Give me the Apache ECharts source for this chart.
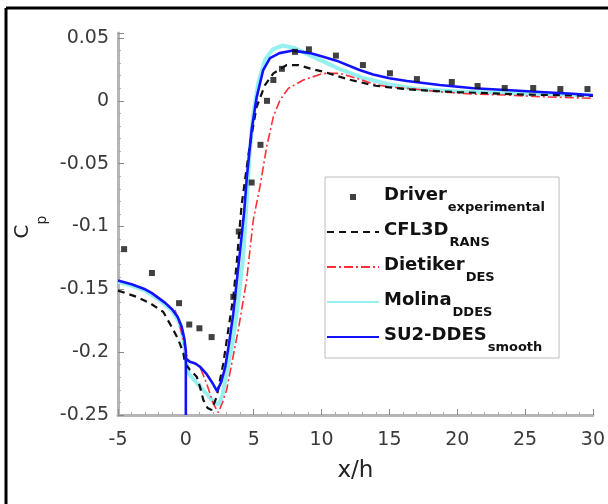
<!DOCTYPE html>
<html>
<head>
<meta charset="utf-8">
<script src="https://cdn.jsdelivr.net/npm/echarts@6/dist/echarts.min.js"></script>
<style>
  html, body { margin: 0; padding: 0; background: #fff; }
  #chart { width: 608px; height: 504px; }
</style>
</head>
<body>
<div id="chart"></div>
<script>
// Wall pressure coefficient behind a backward-facing step, x/h from -5 to 30.

// Legend names and their subscripts
const seriesNames = ['Driver', 'CFL3D', 'Dietiker', 'Molina', 'SU2-DDES'];
const subscripts = ['experimental', 'RANS', 'DES', 'DDES', 'smooth'];

// Driver experimental
const xDriver = [-4.55, -2.5, -0.5, 0.25, 1.0, 1.9, 3.5, 3.9, 4.85, 5.5, 5.98, 6.45, 7.08, 8.04, 9.07, 11.06, 13.05, 15.04, 17.03, 19.6, 21.5, 23.5, 25.6, 27.6, 29.6];
const cpDriver = [-0.118, -0.137, -0.161, -0.178, -0.181, -0.188, -0.156, -0.104, -0.065, -0.035, 0.0, 0.0166, 0.0255, 0.039, 0.041, 0.036, 0.0285, 0.022, 0.0173, 0.015, 0.0118, 0.0102, 0.0102, 0.0094, 0.0094];

// CFL3D RANS
const xCfl3d = [-5, -3.62, -2.64, -1.66, -1.04, -0.55, -0.18, -0.06, 0.3, 0.8, 1.04, 1.29, 1.6, 1.9, 2.27, 2.76, 3.13, 3.5, 3.75, 3.87, 4.11, 4.36, 4.73, 5.22, 5.83, 6.45, 7.43, 8.29, 9.39, 10.13, 12, 14, 16, 18, 20, 25, 30];
const cpCfl3d = [-0.151, -0.156, -0.161, -0.168, -0.18, -0.19, -0.201, -0.209, -0.214, -0.2195, -0.2275, -0.238, -0.2445, -0.246, -0.2355, -0.209, -0.182, -0.156, -0.129, -0.113, -0.083, -0.063, -0.034, -0.0047, 0.0126, 0.0219, 0.0285, 0.0285, 0.025, 0.0232, 0.017, 0.012, 0.0095, 0.008, 0.007, 0.005, 0.004];

// Dietiker DES
const xDietiker = [-0.8, -0.5, -0.2, 0.16, 0.6, 1.04, 1.5, 2.03, 2.39, 2.7, 3.01, 3.4, 3.87, 4.48, 4.97, 5.46, 5.96, 6.45, 6.94, 7.55, 8.66, 10.13, 11.36, 12.83, 13.81, 15, 16.27, 18.73, 21.18, 23.64, 26.1, 30];
const cpDietiker = [-0.1665, -0.176, -0.19, -0.207, -0.209, -0.2116, -0.224, -0.241, -0.248, -0.24, -0.23, -0.208, -0.182, -0.1426, -0.0949, -0.0683, -0.0365, -0.0126, 0.0006, 0.0099, 0.0166, 0.0219, 0.0219, 0.0171, 0.0134, 0.011, 0.01, 0.0072, 0.0054, 0.0046, 0.0033, 0.002];

// Molina DDES
const xMolina = [-5, -4, -3, -2, -1, -0.5, -0.2, 0, 0.2, 0.6, 1.04, 1.6, 2.0, 2.4, 2.7, 3.0, 3.4, 3.75, 4.23, 4.45, 4.68, 4.95, 5.35, 5.85, 6.4, 7.1, 8.0, 9.0, 10, 11.4, 13, 15, 17, 20, 25, 30];
const cpMolina = [-0.144, -0.147, -0.151, -0.158, -0.167, -0.176, -0.188, -0.205, -0.217, -0.222, -0.2275, -0.234, -0.239, -0.242, -0.234, -0.217, -0.195, -0.169, -0.124, -0.085, -0.045, -0.012, 0.015, 0.033, 0.041, 0.044, 0.042, 0.037, 0.032, 0.025, 0.0185, 0.013, 0.0095, 0.0075, 0.0058, 0.0045];

// SU2-DDES smooth (includes the step face at x/h = 0)
const xSu2 = [-5, -4, -3, -2.5, -2, -1.5, -1, -0.6, -0.3, -0.1, 0, 0, 0, 0.3, 0.7, 1.04, 1.5, 1.9, 2.3, 2.6, 2.9, 3.2, 3.5, 4.0, 4.3, 4.5, 4.85, 5.22, 5.7, 6.2, 6.9, 7.9, 9.15, 10, 11.1, 12.8, 13.8, 15, 16.3, 18.7, 21.2, 23.6, 26.1, 28.5, 30];
const cpSu2 = [-0.143, -0.146, -0.15, -0.153, -0.157, -0.161, -0.166, -0.172, -0.18, -0.19, -0.199, -0.25, -0.205, -0.2076, -0.209, -0.2116, -0.217, -0.2235, -0.231, -0.224, -0.212, -0.192, -0.169, -0.119, -0.088, -0.06, -0.023, 0.003, 0.0245, 0.034, 0.038, 0.04, 0.038, 0.0355, 0.032, 0.0245, 0.021, 0.018, 0.0158, 0.0126, 0.01, 0.0086, 0.0071, 0.0056, 0.0045];

// Axis ticks
const xTicks = { min: -5, max: 30, step: 5 };
const yTicks = { min: -0.25, max: 0.054, step: 0.05 };

const zip = (xs, ys) => xs.map((x, i) => [x, ys[i]]);

const FONT = 'DejaVu Sans';
const hideSymbol = { opacity: 0 };

const chart = echarts.init(document.getElementById('chart'), null, { renderer: 'canvas' });

chart.setOption({
  animation: false,
  backgroundColor: '#ffffff',
  grid: { left: 118, right: 15, top: 33, bottom: 89 },
  graphic: [
    { type: 'line', shape: { x1: 6, y1: 8, x2: 608, y2: 8 }, style: { stroke: '#000', lineWidth: 3 }, silent: true },
    { type: 'line', shape: { x1: 6, y1: 8, x2: 6, y2: 504 }, style: { stroke: '#000', lineWidth: 3 }, silent: true }
  ],
  xAxis: {
    type: 'value',
    min: xTicks.min, max: xTicks.max, interval: xTicks.step,
    name: 'x/h', nameLocation: 'middle', nameGap: 45,
    nameTextStyle: { fontFamily: FONT, fontSize: 23, color: '#222' },
    axisLine: { show: true, onZero: false, lineStyle: { color: '#b5b5b5', width: 3 } },
    axisTick: { show: true, inside: true, length: 6, lineStyle: { color: '#8a8a8a', width: 1 } },
    minorTick: { show: true, splitNumber: 5, length: 3, lineStyle: { color: '#aaa' } },
    splitLine: { show: false },
    axisLabel: { margin: 16, fontFamily: FONT, fontSize: 19, color: '#3a3a3a' }
  },
  yAxis: {
    type: 'value',
    min: yTicks.min, max: yTicks.max, interval: yTicks.step,
    name: '{c|C}{p|p}', nameLocation: 'middle', nameGap: 68, nameRotate: 90,
    nameTextStyle: {
      rich: {
        c: { fontFamily: FONT, fontSize: 20, lineHeight: 20, verticalAlign: 'top', color: '#222' },
        p: { fontFamily: FONT, fontSize: 14, verticalAlign: 'top', padding: [22, 6, 0, 0], color: '#222' }
      }
    },
    axisLine: { show: true, onZero: false, lineStyle: { color: '#b5b5b5', width: 3 } },
    axisTick: { show: true, inside: true, length: 6, lineStyle: { color: '#8a8a8a', width: 1 } },
    minorTick: { show: true, splitNumber: 5, length: 3, lineStyle: { color: '#aaa' } },
    splitLine: { show: false },
    axisLabel: {
      margin: 9, fontFamily: FONT, fontSize: 19, color: '#3a3a3a', showMaxLabel: false,
      formatter: v => (Math.abs(v) < 1e-9 ? '0' : String(parseFloat(v.toFixed(3))))
    }
  },
  legend: {
    orient: 'vertical',
    left: 325, top: 177,
    padding: [3, 14, 4, 1],
    itemGap: 1,
    itemWidth: 52, itemHeight: 14,
    backgroundColor: '#fff',
    borderColor: '#bdbdbd', borderWidth: 1,
    data: [
      { name: 'Driver', icon: 'path://M0,0M52,0M52,14M0,14M23,4L29,4L29,10L23,10Z' },
      { name: 'CFL3D', itemStyle: hideSymbol },
      { name: 'Dietiker', itemStyle: hideSymbol },
      { name: 'Molina', itemStyle: hideSymbol },
      { name: 'SU2-DDES', itemStyle: hideSymbol }
    ],
    formatter: name => '{m|' + name + '}{s|' + subscripts[seriesNames.indexOf(name)] + '}',
    textStyle: {
      rich: {
        m: { fontFamily: FONT, fontSize: 18, fontWeight: 'bold', lineHeight: 20, verticalAlign: 'top', padding: [6, 0, 0, 0], color: '#111' },
        s: { fontFamily: FONT, fontSize: 13, fontWeight: 'bold', verticalAlign: 'top', padding: [21, 0, 0, 1], color: '#111' }
      }
    }
  },
  series: [
    {
      name: 'Molina', type: 'line', symbol: 'none', z: 2,
      data: zip(xMolina, cpMolina),
      lineStyle: { color: '#96f0f0', width: 4 }, itemStyle: { color: '#96f0f0' }
    },
    {
      name: 'Dietiker', type: 'line', symbol: 'none', z: 3,
      data: zip(xDietiker, cpDietiker),
      lineStyle: { color: '#ff2f3a', width: 1.6, type: [9, 3, 2, 3] }, itemStyle: { color: '#ff2f3a' }
    },
    {
      name: 'CFL3D', type: 'line', symbol: 'none', z: 4,
      data: zip(xCfl3d, cpCfl3d),
      lineStyle: { color: '#111', width: 2.2, type: [7, 5] }, itemStyle: { color: '#111' }
    },
    {
      name: 'SU2-DDES', type: 'line', symbol: 'none', z: 5,
      data: zip(xSu2, cpSu2),
      lineStyle: { color: '#1212ff', width: 2.6 }, itemStyle: { color: '#1212ff' }
    },
    {
      name: 'Driver', type: 'scatter', symbol: 'rect', symbolSize: 6, z: 6,
      data: zip(xDriver, cpDriver),
      itemStyle: { color: '#111' }
    }
  ]
});
</script>
</body>
</html>
